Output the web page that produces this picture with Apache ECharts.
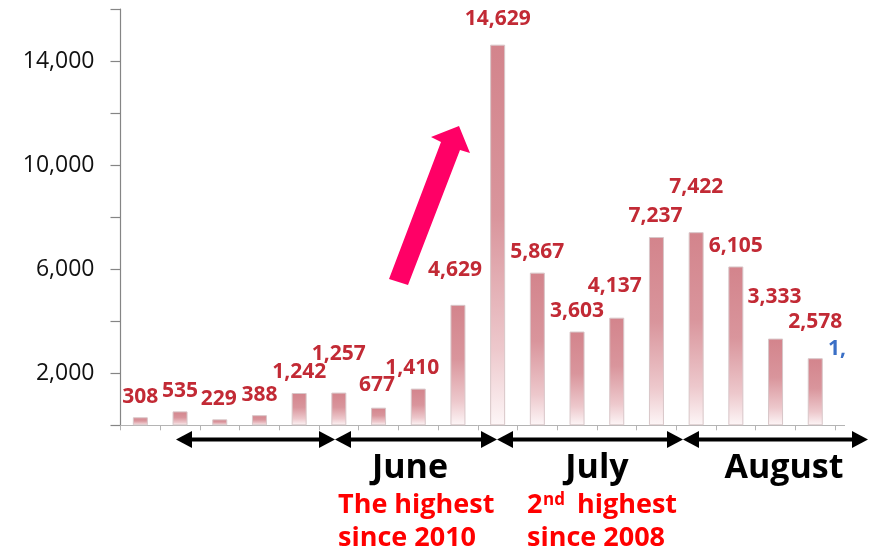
<!DOCTYPE html>
<html>
<head>
<meta charset="utf-8">
<script src="https://cdn.jsdelivr.net/npm/echarts@6/dist/echarts.min.js"></script>
<style>
  html, body { margin: 0; padding: 0; background: #fff; }
  #chart { width: 876px; height: 551px; }
</style>
</head>
<body>
<div id="chart"></div>
<script>
// Weekly counts, May through August
const weeks = ['W1', 'W2', 'W3', 'W4', 'W5', 'W6', 'W7', 'W8', 'W9',
               'W10', 'W11', 'W12', 'W13', 'W14', 'W15', 'W16', 'W17', 'W18'];
const counts = [308, 535, 229, 388, 1242, 1257, 677, 1410, 4629,
                14629, 5867, 3603, 4137, 7237, 7422, 6105, 3333, 2578];
const yLabelValues = [2000, 6000, 10000, 14000];
const months = ['June', 'July', 'August'];
const notes = [['The highest', 'since 2010'], ['2', 'nd', 'highest', 'since 2008']];
const trailingLabel = '1,';

// Per-bar label nudges [dx, dy] so crowded labels don't collide
const labelShift = [[0, 0], [0, 0], [-1, 0], [0, 0], [0, 0], [0, -18], [-1.5, -2], [-6, 0], [-3, -14],
                    [0, -5], [0, 0], [0, 0], [-2, -11], [-1, 0], [0, -25], [0, 0], [-1, -21], [0, -16]];

const fmt = v => v.toLocaleString('en-US');
const FONT = '"Open Sans", "Noto Sans", sans-serif';

const barData = counts.map((v, i) => ({
  value: v,
  label: { offset: labelShift[i] }
}));

// Double-headed arrow between x0 and x1 at height y
function doubleArrow(x0, x1, y) {
  const head = 16, half = 8.5;
  return [
    { type: 'line', z: 50, shape: { x1: x0 + head - 2, y1: y, x2: x1 - head + 2, y2: y },
      style: { stroke: '#000', lineWidth: 4 } },
    { type: 'polygon', z: 50, shape: { points: [[x0, y], [x0 + head, y - half], [x0 + head, y + half]] },
      style: { fill: '#000' } },
    { type: 'polygon', z: 50, shape: { points: [[x1, y], [x1 - head, y - half], [x1 - head, y + half]] },
      style: { fill: '#000' } }
  ];
}

const chart = echarts.init(document.getElementById('chart'), null, { renderer: 'canvas' });

const arrowY = 439.5;
const spans = [[176, 335], [335, 497], [497, 683], [683, 868]];
let graphics = [];
spans.forEach(s => { graphics = graphics.concat(doubleArrow(s[0], s[1], arrowY)); });

// x-axis line continues a little past the last week
graphics.push({ type: 'line', z: 40, shape: { x1: 835, y1: 425.5, x2: 845, y2: 425.5 },
  style: { stroke: '#b4b4b4', lineWidth: 1 } });

// Month captions
const monthX = [410, 597, 784];
months.forEach((m, i) => {
  graphics.push({ type: 'text', z: 50, x: monthX[i], y: 468,
    style: { text: m, fill: '#000', font: 'bold 34px ' + FONT, align: 'center', verticalAlign: 'middle' } });
});

// Red notes under June and July
graphics.push(
  { type: 'text', z: 50, x: 338, y: 505.5,
    style: { text: notes[0][0], fill: '#ff0000', font: 'bold 27px ' + FONT, align: 'left', verticalAlign: 'middle' } },
  { type: 'text', z: 50, x: 338, y: 538,
    style: { text: notes[0][1], fill: '#ff0000', font: 'bold 27px ' + FONT, align: 'left', verticalAlign: 'middle' } },
  { type: 'text', z: 50, x: 527, y: 505.5,
    style: { text: notes[1][0], fill: '#ff0000', font: 'bold 27px ' + FONT, align: 'left', verticalAlign: 'middle' } },
  { type: 'text', z: 50, x: 543, y: 492,
    style: { text: notes[1][1], fill: '#ff0000', font: 'bold 17px ' + FONT, align: 'left', verticalAlign: 'top' } },
  { type: 'text', z: 50, x: 577, y: 505.5,
    style: { text: notes[1][2], fill: '#ff0000', font: 'bold 27px ' + FONT, align: 'left', verticalAlign: 'middle' } },
  { type: 'text', z: 50, x: 527, y: 538,
    style: { text: notes[1][3], fill: '#ff0000', font: 'bold 27px ' + FONT, align: 'left', verticalAlign: 'middle' } }
);

// Surge arrow pointing at the peak week
graphics.push({ type: 'polygon', z: 60,
  shape: { points: [[389, 279], [441, 142], [431, 137], [459, 126], [470, 153], [460, 150], [408, 285]] },
  style: { fill: '#ff0066' } });

// Partially visible label of the following week
graphics.push({ type: 'text', z: 50, x: 828, y: 349,
  style: { text: trailingLabel, fill: '#3a6fc6', font: 'bold 21px ' + FONT, align: 'left', verticalAlign: 'middle' } });

chart.setOption({
  animation: false,
  backgroundColor: '#fff',
  grid: { left: 120.5, top: 9, width: 714.6, height: 416.3, containLabel: false },
  xAxis: {
    type: 'category',
    data: weeks,
    boundaryGap: true,
    axisLine: { show: true, lineStyle: { color: '#b4b4b4', width: 1 } },
    axisTick: { show: true, length: 5, lineStyle: { color: '#b4b4b4' } },
    axisLabel: { show: false },
    splitLine: { show: false }
  },
  yAxis: {
    type: 'value',
    min: 0,
    max: 16000,
    interval: 2000,
    axisLine: { show: true, lineStyle: { color: '#858585', width: 1.2 } },
    axisTick: { show: true, length: 10, lineStyle: { color: '#858585', width: 1.2 } },
    axisLabel: {
      margin: 26,
      color: '#111',
      fontFamily: FONT,
      fontSize: 23,
      formatter: v => (yLabelValues.indexOf(v) >= 0 ? fmt(v) : '')
    },
    splitLine: { show: false }
  },
  series: [{
    type: 'bar',
    data: barData,
    barWidth: 15,
    itemStyle: {
      color: new echarts.graphic.LinearGradient(0, 0, 0, 1, [
        { offset: 0, color: '#d3848c' },
        { offset: 0.45, color: '#d9959c' },
        { offset: 0.8, color: '#edc8cc' },
        { offset: 1, color: '#fdf6f7' }
      ]),
      borderColor: '#d8c6c8',
      borderWidth: 1
    },
    label: {
      show: true,
      position: 'top',
      distance: 10,
      color: '#c22a35',
      fontFamily: FONT,
      fontWeight: 'bold',
      fontSize: 21,
      formatter: p => fmt(p.value)
    }
  }],
  graphic: graphics
});
</script>
</body>
</html>
